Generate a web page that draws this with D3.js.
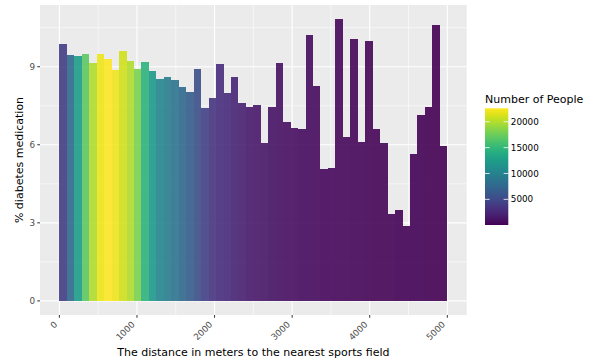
<!DOCTYPE html>
<html>
<head>
<meta charset="utf-8">
<script src="https://cdn.jsdelivr.net/npm/d3@7"></script>
<style>
  body { margin: 0; background: #ffffff; }
  svg { display: block; font-family: "DejaVu Sans", sans-serif; }
</style>
</head>
<body>
<svg id="chart" width="593" height="364"></svg>
<script>
// Distance bins (lower edge, metres); each bin is 5000/52 m wide
const binWidth = 5000 / 52;
const binStart = [
  0, 96.2, 192.3, 288.5, 384.6, 480.8, 576.9, 673.1, 769.2, 865.4,
  961.5, 1057.7, 1153.8, 1250, 1346.2, 1442.3, 1538.5, 1634.6, 1730.8, 1826.9,
  1923.1, 2019.2, 2115.4, 2211.5, 2307.7, 2403.8, 2500, 2596.2, 2692.3, 2788.5,
  2884.6, 2980.8, 3076.9, 3173.1, 3269.2, 3365.4, 3461.5, 3557.7, 3653.8, 3750,
  3846.2, 3942.3, 4038.5, 4134.6, 4230.8, 4326.9, 4423.1, 4519.2, 4615.4, 4711.5,
  4807.7, 4903.8
];

// Share of people on diabetes medication per bin (%)
const pctDiabetes = [
  9.87, 9.45, 9.41, 9.48, 9.15, 9.49, 9.30, 8.88, 9.60, 9.21,
  8.91, 9.17, 8.82, 8.53, 8.60, 8.49, 8.23, 8.03, 8.92, 7.43,
  7.81, 9.10, 7.99, 8.62, 7.59, 7.46, 7.53, 6.06, 7.44, 9.13,
  6.89, 6.63, 6.60, 10.22, 8.26, 5.05, 5.09, 10.83, 6.29, 10.06,
  6.09, 9.97, 6.61, 6.05, 3.33, 3.49, 2.87, 5.66, 7.13, 7.44,
  10.59, 5.96
];

// Number of people per bin
const nPeople = [
  4100, 7700, 12450, 16950, 19900, 21900, 22600, 22150, 21000, 19900,
  18100, 14500, 12200, 10400, 9500, 8600, 7700, 6600, 5450, 4350,
  3400, 2950, 2750, 2300, 2050, 1600, 1400, 1280, 1170, 1060,
  940, 830, 720, 670, 600, 540, 490, 450, 400, 360,
  310, 290, 270, 240, 220, 200, 180, 150, 130, 110,
  90, 40
];

const xTicks = [0, 1000, 2000, 3000, 4000, 5000];
const xMinor = [500, 1500, 2500, 3500, 4500];
const yTicks = [0, 3, 6, 9];
const yMinor = [1.5, 4.5, 7.5, 10.5];
const legendTicks = [5000, 10000, 15000, 20000];

const data = binStart.map((s, i) => ({ x0: s, x1: s + binWidth, pct: pctDiabetes[i], n: nPeople[i] }));

const svg = d3.select("#chart");
const panel = { left: 40, right: 466.7, top: 5, bottom: 315 };

// ggplot-like 5% expansion on both axes
const xMin = 0, xMax = 5000;
const xPad = (xMax - xMin) * 0.05;
const x = d3.scaleLinear().domain([xMin - xPad, xMax + xPad]).range([panel.left, panel.right]);
const yMax = d3.max(pctDiabetes);
const yPad = yMax * 0.05;
const y = d3.scaleLinear().domain([-yPad, yMax + yPad]).range([panel.bottom, panel.top]);

const nExtent = d3.extent(nPeople);
const color = d3.scaleSequential(d3.interpolateViridis).domain(nExtent);

// Panel background
svg.append("rect")
  .attr("x", panel.left).attr("y", panel.top)
  .attr("width", panel.right - panel.left).attr("height", panel.bottom - panel.top)
  .attr("fill", "#ebebeb");

// Grid
const grid = svg.append("g");
grid.selectAll(".ymin").data(yMinor).join("line")
  .attr("x1", panel.left).attr("x2", panel.right)
  .attr("y1", d => y(d)).attr("y2", d => y(d))
  .attr("stroke", "#ffffff").attr("stroke-width", 0.55);
grid.selectAll(".xmin").data(xMinor).join("line")
  .attr("y1", panel.top).attr("y2", panel.bottom)
  .attr("x1", d => x(d)).attr("x2", d => x(d))
  .attr("stroke", "#ffffff").attr("stroke-width", 0.55);
grid.selectAll(".ymaj").data(yTicks).join("line")
  .attr("x1", panel.left).attr("x2", panel.right)
  .attr("y1", d => y(d)).attr("y2", d => y(d))
  .attr("stroke", "#ffffff").attr("stroke-width", 1.1);
grid.selectAll(".xmaj").data(xTicks).join("line")
  .attr("y1", panel.top).attr("y2", panel.bottom)
  .attr("x1", d => x(d)).attr("x2", d => x(d))
  .attr("stroke", "#ffffff").attr("stroke-width", 1.1);

// Bars
svg.append("g").selectAll("rect").data(data).join("rect")
  .attr("x", d => x(d.x0))
  .attr("width", d => x(d.x1) - x(d.x0))
  .attr("y", d => y(d.pct))
  .attr("height", d => y(0) - y(d.pct))
  .attr("fill", d => color(d.n))
  .attr("fill-opacity", 0.9)
  .attr("shape-rendering", "crispEdges");

// Y axis
const yAxis = svg.append("g");
yAxis.selectAll("line").data(yTicks).join("line")
  .attr("x1", panel.left - 2.75).attr("x2", panel.left)
  .attr("y1", d => y(d)).attr("y2", d => y(d))
  .attr("stroke", "#333333").attr("stroke-width", 1);
yAxis.selectAll("text").data(yTicks).join("text")
  .attr("x", panel.left - 5).attr("y", d => y(d))
  .attr("dy", "0.35em")
  .attr("text-anchor", "end")
  .attr("font-size", 8.8).attr("fill", "#4d4d4d")
  .text(d => d);

// X axis
const xAxis = svg.append("g");
xAxis.selectAll("line").data(xTicks).join("line")
  .attr("y1", panel.bottom).attr("y2", panel.bottom + 2.75)
  .attr("x1", d => x(d)).attr("x2", d => x(d))
  .attr("stroke", "#333333").attr("stroke-width", 1);
xAxis.selectAll("text").data(xTicks).join("text")
  .attr("transform", d => `translate(${x(d) - 1.5},${panel.bottom + 10}) rotate(-45)`)
  .attr("text-anchor", "end")
  .attr("font-size", 8.8).attr("fill", "#4d4d4d")
  .text(d => d);

// Axis titles
svg.append("text")
  .attr("x", (panel.left + panel.right) / 2).attr("y", 356)
  .attr("text-anchor", "middle").attr("font-size", 11).attr("fill", "#000000")
  .text("The distance in meters to the nearest sports field");
svg.append("text")
  .attr("transform", `translate(23,${(panel.top + panel.bottom) / 2}) rotate(-90)`)
  .attr("text-anchor", "middle").attr("font-size", 11).attr("fill", "#000000")
  .text("% diabetes medication");

// Colour bar legend
const lg = { x: 485, w: 23.3, top: 108.3, bottom: 225 };
const ly = d3.scaleLinear().domain(nExtent).range([lg.bottom, lg.top]);
const defs = svg.append("defs");
const grad = defs.append("linearGradient").attr("id", "viridisBar")
  .attr("x1", 0).attr("x2", 0).attr("y1", 1).attr("y2", 0);
d3.range(0, 1.0001, 0.05).forEach(t => {
  grad.append("stop").attr("offset", t).attr("stop-color", d3.interpolateViridis(t));
});
svg.append("text")
  .attr("x", lg.x).attr("y", 103)
  .attr("font-size", 11).attr("fill", "#000000")
  .text("Number of People");
svg.append("rect")
  .attr("x", lg.x).attr("y", lg.top)
  .attr("width", lg.w).attr("height", lg.bottom - lg.top)
  .attr("fill", "url(#viridisBar)");
const lt = svg.append("g");
lt.selectAll(".tl").data(legendTicks).join("line")
  .attr("x1", lg.x).attr("x2", lg.x + lg.w / 5)
  .attr("y1", d => ly(d)).attr("y2", d => ly(d))
  .attr("stroke", "#ffffff").attr("stroke-opacity", 0.8).attr("stroke-width", 1);
lt.selectAll(".tr").data(legendTicks).join("line")
  .attr("x1", lg.x + lg.w * 4 / 5).attr("x2", lg.x + lg.w)
  .attr("y1", d => ly(d)).attr("y2", d => ly(d))
  .attr("stroke", "#ffffff").attr("stroke-opacity", 0.8).attr("stroke-width", 1);
lt.selectAll("text").data(legendTicks).join("text")
  .attr("x", lg.x + lg.w + 2.5).attr("y", d => ly(d))
  .attr("dy", "0.35em")
  .attr("font-size", 8.8).attr("fill", "#000000")
  .text(d => d);
</script>
</body>
</html>
